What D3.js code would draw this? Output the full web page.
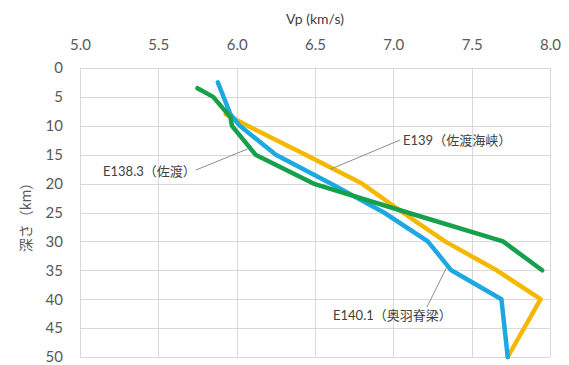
<!DOCTYPE html>
<html>
<head>
<meta charset="utf-8">
<script src="https://cdn.jsdelivr.net/npm/d3@7"></script>
<style>
  html, body { margin: 0; padding: 0; background: #fff; }
  svg { display: block; }
</style>
</head>
<body>
<svg id="chart" width="569" height="365"></svg>
<script>
// Velocity ticks (top axis) and depth ticks (left axis)
const vpTicks = [5.0, 5.5, 6.0, 6.5, 7.0, 7.5, 8.0];
const depthTicks = [0, 5, 10, 15, 20, 25, 30, 35, 40, 45, 50];

// P-wave velocity profiles: depth (km) and Vp (km/s)
const sadoDepth = [3.5, 5, 8.5, 10, 15, 20, 25, 30, 35];
const sadoVp    = [5.75, 5.85, 5.96, 5.97, 6.12, 6.49, 7.09, 7.70, 7.95];

const straitDepth = [8, 10, 15, 20, 25, 30, 35, 40, 50];
const straitVp    = [5.93, 6.07, 6.44, 6.80, 7.06, 7.33, 7.66, 7.94, 7.73];

const ouDepth = [2.5, 8, 10, 15, 20, 25, 30, 35, 40, 50];
const ouVp    = [5.88, 5.96, 6.02, 6.25, 6.60, 6.94, 7.22, 7.37, 7.69, 7.73];

// label = longitude code + region name
const seriesCodes = ["E139", "E140.1", "E138.3"];
const seriesRegions = ["（佐渡海峡）", "（奥羽脊梁）", "（佐渡）"];

const svg = d3.select("#chart");

const x = d3.scaleLinear().domain([5, 8]).range([80, 550]);
const y = d3.scaleLinear().domain([0, 50]).range([68, 357]);

const fontNum = "Lato, 'Open Sans', sans-serif";
const fontJP = "'Noto Sans CJK JP', sans-serif";

// grid
const grid = svg.append("g").attr("stroke", "#d9d9d9").attr("stroke-width", 1).attr("shape-rendering", "crispEdges");
grid.selectAll("line.v").data(vpTicks).join("line")
  .attr("x1", d => Math.round(x(d)) + 0.5).attr("x2", d => Math.round(x(d)) + 0.5)
  .attr("y1", y(0)).attr("y2", y(50));
grid.selectAll("line.h").data(depthTicks).join("line")
  .attr("y1", d => Math.round(y(d)) + 0.5).attr("y2", d => Math.round(y(d)) + 0.5)
  .attr("x1", x(5)).attr("x2", x(8));

// top axis labels
const xAxis = d3.axisTop(x).tickValues(vpTicks).tickFormat(d3.format(".1f")).tickSize(0).tickPadding(0);
const gx = svg.append("g").attr("transform", "translate(0,50)").call(xAxis);
gx.select(".domain").remove();
gx.selectAll("text").attr("fill", "#595959").style("font-family", fontNum).style("font-size", "15px");

// left axis labels
const yAxis = d3.axisLeft(y).tickValues(depthTicks).tickFormat(d3.format("d")).tickSize(0).tickPadding(0);
const gy = svg.append("g").attr("transform", "translate(63,0)").call(yAxis);
gy.select(".domain").remove();
gy.selectAll("text").attr("fill", "#595959").style("font-family", fontNum).style("font-size", "15px");

// axis titles
svg.append("text").attr("x", (x(5) + x(8)) / 2).attr("y", 24)
  .attr("text-anchor", "middle").attr("fill", "#404040")
  .style("font-family", fontNum).style("font-size", "14px").text("Vp (km/s)");
svg.append("text").attr("transform", "translate(31,214) rotate(-90)")
  .attr("text-anchor", "middle").attr("fill", "#595959")
  .style("font-family", fontJP).style("font-size", "14px").text("深さ（km）");

// profile lines
const line = d3.line().x(d => x(d[0])).y(d => y(d[1]));
const profiles = [
  { vp: straitVp, depth: straitDepth, color: "#f4b800" },
  { vp: ouVp, depth: ouDepth, color: "#1ea8e2" },
  { vp: sadoVp, depth: sadoDepth, color: "#17a04c" }
];
svg.append("g").selectAll("path").data(profiles).join("path")
  .attr("d", p => line(p.vp.map((v, i) => [v, p.depth[i]])))
  .attr("fill", "none").attr("stroke", p => p.color)
  .attr("stroke-width", 4.5).attr("stroke-linejoin", "round").attr("stroke-linecap", "round");

// labels with leader lines
const labels = [
  { i: 0, tx: 403, ty: 145, from: [400, 140], to: [x(6.6), y(17.5)] },
  { i: 1, tx: 333, ty: 320, from: [427, 307], to: [x(7.34), y(34.5)] },
  { i: 2, tx: 103, ty: 176, from: [196, 170], to: [x(6.07), y(14)] }
];
const lg = svg.append("g");
lg.selectAll("line").data(labels).join("line")
  .attr("x1", d => d.from[0]).attr("y1", d => d.from[1])
  .attr("x2", d => d.to[0]).attr("y2", d => d.to[1])
  .attr("stroke", "#8c8c8c").attr("stroke-width", 1);
const lt = lg.selectAll("text").data(labels).join("text")
  .attr("x", d => d.tx).attr("y", d => d.ty)
  .attr("fill", "#404040").style("font-size", "13px");
lt.append("tspan").style("font-family", fontNum).text(d => seriesCodes[d.i]);
lt.append("tspan").style("font-family", fontJP).text(d => seriesRegions[d.i]);
</script>
</body>
</html>
